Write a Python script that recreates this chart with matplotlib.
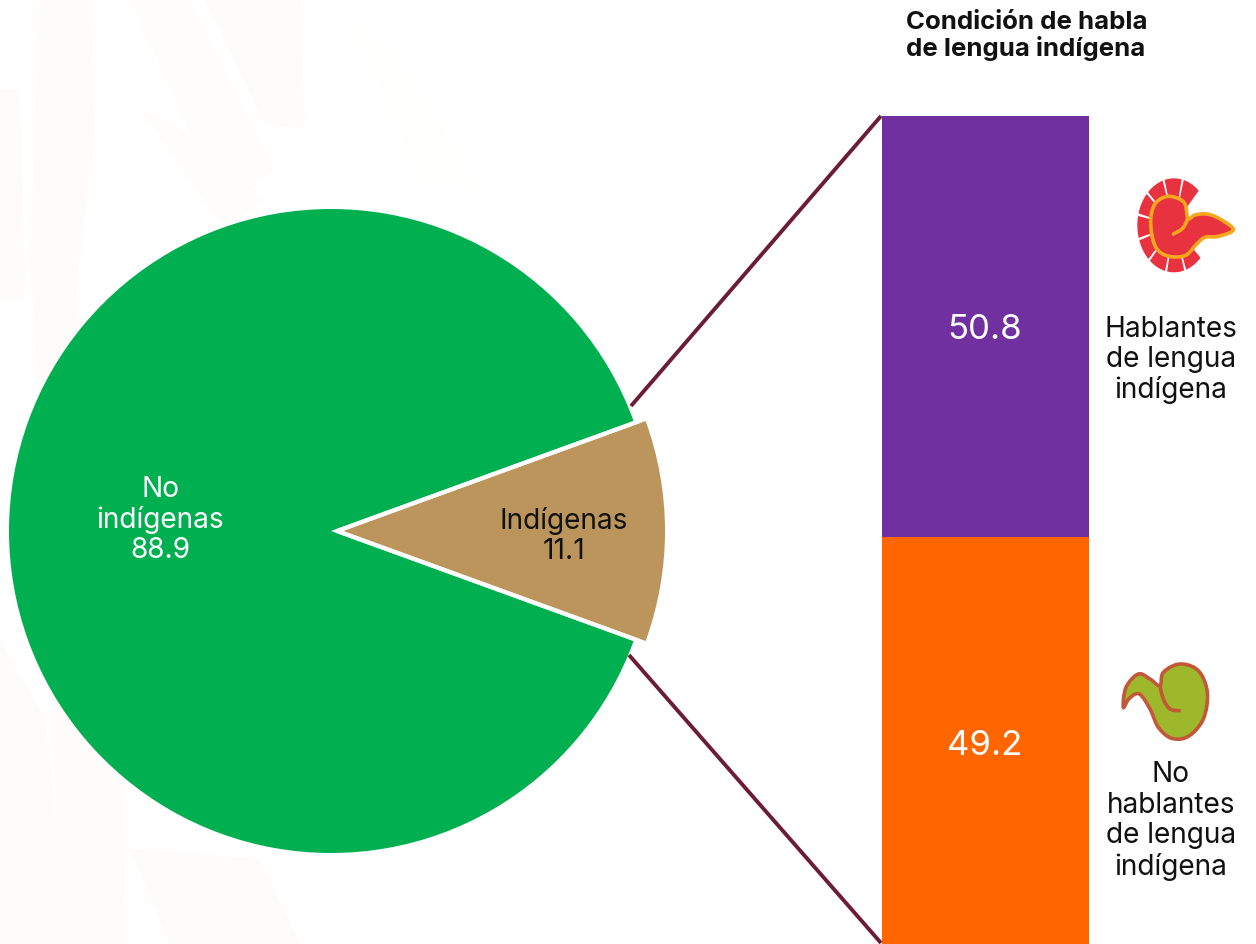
import numpy as np
import matplotlib
matplotlib.use("Agg")
import matplotlib.pyplot as plt
from matplotlib.patches import Polygon

W, H = 1256, 945
FONT = "Inter"

pie_labels = ["No\nindígenas\n88.9", "Indígenas\n11.1"]
pie_values = [88.9, 11.1]
pie_colors = ["#00B050", "#BC955C"]
pie_text_colors = ["white", "#111111"]

bar_labels = ["49.2", "50.8"]
bar_values = [49.2, 50.8]
bar_colors = ["#FF6600", "#7030A0"]
bar_captions = ["No\nhablantes\nde lengua\nindígena", "Hablantes\nde lengua\nindígena"]
title = "Condición de habla\nde lengua indígena"

LINE = "#6B1D35"

fig = plt.figure(figsize=(W / 100, H / 100), dpi=100, facecolor="white")


def px_axes(x0, y0, x1, y1, **kw):
    return fig.add_axes([x0 / W, 1 - y1 / H, (x1 - x0) / W, (y1 - y0) / H], **kw)


# full-figure overlay in pixel units: watermark, connectors, icons, text
bg = px_axes(0, 0, W, H, zorder=0)
bg.set_xlim(0, W); bg.set_ylim(H, 0); bg.axis("off")
bands = [
    ([(40, 0), (90, 0), (95, 130), (75, 300), (118, 480), (125, 945), (60, 945), (48, 530), (30, 260)], "#FEFCFB"),
    ([(130, 0), (190, 0), (275, 170), (225, 210)], "#FEFDFB"),
    ([(205, 0), (300, 0), (305, 130), (265, 125)], "#FEFCFB"),
    ([(140, 110), (180, 130), (265, 200), (225, 230)], "#FEFDFC"),
    ([(350, 20), (400, 60), (480, 190), (420, 180)], "#FEFEFD"),
    ([(0, 90), (20, 90), (25, 300), (0, 300)], "#FEFCFB"),
    ([(0, 640), (45, 720), (70, 945), (0, 945)], "#FEFCFB"),
    ([(130, 850), (260, 860), (300, 945), (170, 945)], "#FEFCFB"),
]
for pts, col in bands:
    bg.add_patch(Polygon(pts, closed=True, fc=col, ec="none"))

# pie
pie_ax = px_axes(9, 210, 653, 854, zorder=2)
wedges, _ = pie_ax.pie(
    pie_values,
    colors=pie_colors,
    startangle=180 - 180 * pie_values[0] / 100,
    counterclock=True,
    explode=[0, 12 / 322],
    radius=1,
    wedgeprops={"edgecolor": "none", "linewidth": 0},
)
pie_ax.set_xlim(-1, 1); pie_ax.set_ylim(-1, 1)
for w in wedges:
    w.set_clip_on(False)

# stacked bar
bar_ax = px_axes(882, 117, 1089, 946, zorder=2)
bottom = 0
for v, c, lab in zip(bar_values, bar_colors, bar_labels):
    bar_ax.bar(0, v, bottom=bottom, width=1, color=c, linewidth=0)
    bottom += v
bar_ax.set_xlim(-0.5, 0.5); bar_ax.set_ylim(0, 100); bar_ax.axis("off")

# top overlay
ov = px_axes(0, 0, W, H, zorder=3)
ov.set_xlim(0, W); ov.set_ylim(H, 0); ov.axis("off"); ov.patch.set_alpha(0)

# white separators of the exploded wedge
ang = np.deg2rad(180 * pie_values[1] / 100)
ax0, ay0 = 337, 532
for s in (-1, 1):
    ov.plot([ax0, ax0 + 322 * np.cos(ang)], [ay0, ay0 + s * 322 * np.sin(ang)],
            color="white", lw=3.0, solid_capstyle="butt")

ov.plot([631, 881], [407, 117], color=LINE, lw=2.8, solid_capstyle="butt")
ov.plot([629, 881], [656, 944], color=LINE, lw=2.8, solid_capstyle="butt")

TXT = dict(family=FONT, ha="center", va="center", linespacing=1.16)
ov.text(160, 520, pie_labels[0], color=pie_text_colors[0], fontsize=20.2, **TXT)
ov.text(564, 536, pie_labels[1], color=pie_text_colors[1], fontsize=20.2, **TXT)
ov.text(985, 330, bar_labels[1], color="white", fontsize=25, family=FONT, ha="center", va="center")
ov.text(985, 746, bar_labels[0], color="white", fontsize=25, family=FONT, ha="center", va="center")
ov.text(1171, 360, bar_captions[1], color="#111111", fontsize=20.2, **TXT)
ov.text(1171, 821, bar_captions[0], color="#111111", fontsize=20.2, **TXT)
ov.text(906, 36, title, color="#111111", fontsize=18.6, fontweight="bold", family=FONT,
        ha="left", va="center", linespacing=1.08)


def smooth(pts, closed=False, n=12):
    """Catmull-Rom curve through hand-traced icon outline points."""
    p = np.array(pts, float)
    if closed:
        p = np.vstack([p[-1], p, p[0], p[1]])
    else:
        p = np.vstack([p[0], p, p[-1]])
    out = []
    for i in range(1, len(p) - 2):
        p0, p1, p2, p3 = p[i - 1], p[i], p[i + 1], p[i + 2]
        for t in np.linspace(0, 1, n, endpoint=False):
            out.append(0.5 * (2 * p1 + (p2 - p0) * t + (2 * p0 - 5 * p1 + 4 * p2 - p3) * t**2
                              + (3 * p1 - p0 - 3 * p2 + p3) * t**3))
    return np.array(out)


def to_px(arr, ox, oy):
    return np.asarray(arr, float) / 3 + np.array([ox, oy])


# red icon
RED, YEL = "#E8323F", "#F5A81C"
cx, cy, rx, ry = 222, 199, 110, 141
starts = np.linspace(46, 318, 10)
for a0, a1 in zip(starts[:-1], starts[1:]):
    a = np.deg2rad(np.linspace(a0 + 1.6, a1 - 1.6, 10))
    outer = np.c_[cx + rx * np.cos(a), cy - ry * np.sin(a)]
    inner = np.c_[cx + 0.4 * rx * np.cos(a[::-1]), cy - 0.4 * ry * np.sin(a[::-1])]
    ov.add_patch(Polygon(to_px(np.vstack([outer, inner]), 1100, 160), closed=True, fc=RED, ec="none"))
body = [(264, 178), (252, 130), (205, 112), (165, 135), (152, 190), (165, 260), (200, 290), (255, 290),
        (290, 255), (315, 235), (355, 232), (400, 212), (360, 180), (320, 165), (285, 168)]
ov.add_patch(Polygon(to_px(smooth(body, closed=True), 1100, 160), closed=True, fc=RED, ec=YEL, lw=2.6))
ov.plot(*to_px(smooth([(220, 225), (248, 208), (264, 178)]), 1100, 160).T, color=YEL, lw=2.6,
        solid_capstyle="round")

# green icon
GRN, BRN = "#9DB82A", "#C2573A"
shape = [(70, 175), (78, 115), (115, 75), (150, 90), (180, 110), (190, 70), (240, 45), (295, 65), (322, 130),
         (310, 210), (265, 262), (215, 268), (175, 235), (150, 180), (118, 135), (88, 148)]
ov.add_patch(Polygon(to_px(smooth(shape, closed=True), 1100, 650), closed=True, fc=GRN, ec=BRN, lw=2.6))
ov.plot(*to_px(smooth([(180, 110), (190, 150), (210, 180), (238, 185)]), 1100, 650).T, color=BRN, lw=2.6)

fig.savefig("out.png", dpi=100)
